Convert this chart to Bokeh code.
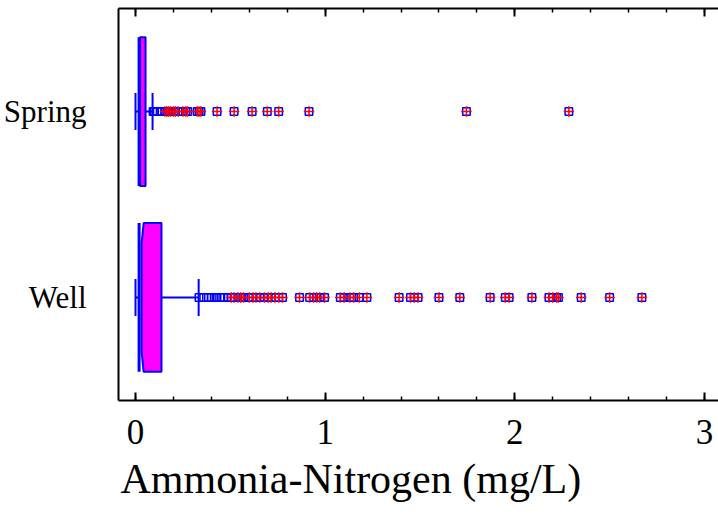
from bokeh.plotting import figure
from bokeh.models import (ColumnDataSource, LinearAxis, SingleIntervalTicker,
                          FixedTicker, Range1d, Title, CustomLabelingPolicy)
from bokeh.embed import file_html
from bokeh.resources import INLINE

# ---- data ----
categories = ["Well", "Spring"]
positions = [1, 2]
whisker_lo = [0.0, 0.0]
q1 = [0.019, 0.019]
notch_corner = [0.043, 0.024]
notch_mid = [0.032, 0.024]
q3 = [0.137, 0.053]
whisker_hi = [0.333, 0.090]

well_near = [0.335, 0.36, 0.385, 0.40, 0.415, 0.43, 0.45, 0.465, 0.485]
well_far = [0.505, 0.52, 0.54, 0.555, 0.57, 0.60, 0.62, 0.635, 0.655, 0.68,
             0.70, 0.715, 0.735, 0.755, 0.775, 0.865, 0.918, 0.939, 0.955,
             0.971, 0.997, 1.08, 1.10, 1.13, 1.15, 1.18, 1.22, 1.39, 1.45,
             1.47, 1.49, 1.60, 1.71, 1.87, 1.95, 1.97, 2.09, 2.18, 2.20,
             2.22, 2.23, 2.35, 2.50, 2.67]
spring_near = [0.093, 0.10, 0.115, 0.13, 0.14]
spring_far = [0.155, 0.165, 0.175, 0.185, 0.20, 0.21, 0.225, 0.25, 0.265,
              0.275, 0.325, 0.335, 0.345, 0.43, 0.52, 0.615, 0.695, 0.755,
              0.915, 1.745, 2.285]

x_title = "Ammonia-Nitrogen (mg/L)"

BLUE = "#0000ff"
MAGENTA = "#ff00ff"
FONT = "Liberation Serif"

half_box = 0.40
half_cap = 0.10
notch_depth = 0.11

p = figure(width=718, height=515,
           x_range=Range1d(-0.0896, 3.074), y_range=Range1d(0.446, 2.554),
           output_backend="svg", toolbar_location=None,
           min_border_left=118, min_border_right=0, min_border_top=8,
           min_border_bottom=115)
p.outline_line_color = None
p.grid.visible = False
p.background_fill_color = "white"
p.border_fill_color = "white"

# ---- boxes ----
xs, ys = [], []
for i, pos in enumerate(positions):
    top, bot = pos + half_box, pos - half_box
    xs.append([notch_corner[i], notch_mid[i], notch_mid[i], notch_corner[i], q3[i], q3[i]])
    ys.append([top, top - notch_depth, bot + notch_depth, bot, bot, top])
p.patches(xs=xs, ys=ys, fill_color=MAGENTA, line_color=BLUE, line_width=2)

box_src = ColumnDataSource(dict(
    pos=positions, top=[v + half_box for v in positions],
    bot=[v - half_box for v in positions],
    ctop=[v + half_cap for v in positions], cbot=[v - half_cap for v in positions],
    wlo=whisker_lo, whi=whisker_hi, q1=q1, q3=q3))
p.segment(x0="q1", y0="bot", x1="q1", y1="top", source=box_src, line_color=BLUE, line_width=3)
p.segment(x0="wlo", y0="pos", x1="q1", y1="pos", source=box_src, line_color=BLUE, line_width=2)
p.segment(x0="q3", y0="pos", x1="whi", y1="pos", source=box_src, line_color=BLUE, line_width=2)
p.segment(x0="wlo", y0="cbot", x1="wlo", y1="ctop", source=box_src, line_color=BLUE, line_width=2)
p.segment(x0="whi", y0="cbot", x1="whi", y1="ctop", source=box_src, line_color=BLUE, line_width=2)

# ---- outliers ----
near_x = well_near + spring_near
near_y = [positions[0]] * len(well_near) + [positions[1]] * len(spring_near)
far_x = well_far + spring_far
far_y = [positions[0]] * len(well_far) + [positions[1]] * len(spring_far)
p.scatter(x=near_x + far_x, y=near_y + far_y, marker="square", size=7.5,
          fill_color=None, line_color=BLUE, line_width=1.5)
p.scatter(x=far_x, y=far_y, marker="cross", size=10.5,
          line_color="red", line_width=1.5)

# ---- axes ----
xa = p.xaxis[0]
xa.ticker = SingleIntervalTicker(interval=1, num_minor_ticks=5)
xa.major_tick_in = 8
xa.major_tick_out = 0
xa.minor_tick_in = 4
xa.minor_tick_out = 0
xa.major_tick_line_width = 2
xa.minor_tick_line_width = 1.5
xa.axis_line_width = 2
xa.major_label_text_font = FONT
xa.major_label_text_font_size = "35px"
xa.major_label_text_color = "black"
xa.major_label_standoff = 19

top_axis = LinearAxis(ticker=SingleIntervalTicker(interval=1, num_minor_ticks=5),
                      major_tick_in=8, major_tick_out=0, minor_tick_in=4,
                      minor_tick_out=0, major_tick_line_width=2,
                      minor_tick_line_width=1.5, axis_line_width=2,
                      major_label_standoff=0, major_label_text_font_size="1px",
                      major_label_policy=CustomLabelingPolicy(
                          code="for (const i of indices) { indices.unset(i) } return indices"))
p.add_layout(top_axis, "above")

ya = p.yaxis[0]
ya.ticker = FixedTicker(ticks=positions)
ya.major_label_overrides = {pos: cat for pos, cat in zip(positions, categories)}
ya.major_tick_line_color = None
ya.minor_tick_line_color = None
ya.axis_line_width = 2
ya.major_label_text_font = FONT
ya.major_label_text_font_size = "31px"
ya.major_label_text_color = "black"
ya.major_label_standoff = 26

title = Title(text=x_title, align="left", offset=2, text_font=FONT,
              text_font_size="42px", text_font_style="normal",
              text_color="black", standoff=14)
p.add_layout(title, "below")

open("out.html", "w").write(file_html(p, INLINE))
